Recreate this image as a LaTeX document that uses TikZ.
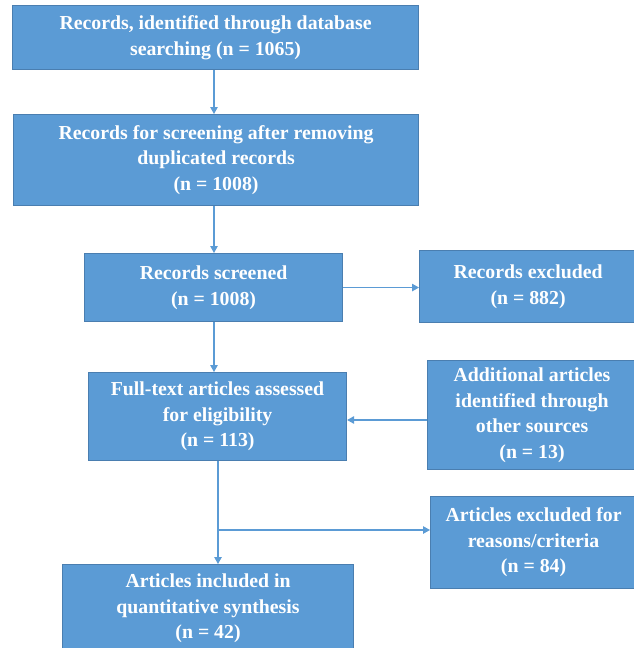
\documentclass[tikz,border=0pt]{standalone}
\usepackage{fontspec}
\setmainfont{Liberation Serif}
\usetikzlibrary{arrows.meta,calc}
\definecolor{boxfill}{HTML}{5B9BD5}
\definecolor{boxline}{HTML}{4A7EB0}
\definecolor{arrowcol}{HTML}{5B9BD5}
\tikzset{
  box/.style={draw=boxline, fill=boxfill, line width=1.1pt, text=white,
    font=\bfseries\fontsize{19.8}{25.5}\selectfont, align=center, inner sep=0pt,
    anchor=north west},
  arr/.style={draw=arrowcol, line width=1.2pt, -{Triangle[length=7pt,width=7.5pt]}},
  conn/.style={draw=arrowcol, line width=1.2pt}
}
\newcommand{\flowbox}[6]{% name, left, top, right, bottom, text
  \node[box, minimum width={(#4-#2)*1pt}, minimum height={(#5-#3)*1pt}] (#1) at (#2,#3) {#6};}
\begin{document}
\begin{tikzpicture}[x=1pt,y=-1pt]
\useasboundingbox (0,0) rectangle (634,648);
\flowbox{b1}{12}{5}{418}{69}{Records, identified through database\\searching (n = 1065)}
\flowbox{b2}{13}{114}{418}{205}{Records for screening after removing\\duplicated records\\(n = 1008)}
\flowbox{b3}{84}{253}{342}{321}{Records screened\\(n = 1008)}
\flowbox{b4}{419}{250}{636}{322}{Records excluded\\(n = 882)}
\flowbox{b5}{88}{372}{346}{460}{Full-text articles assessed\\for eligibility\\(n = 113)}
\flowbox{b6}{427}{360}{636}{469}{Additional articles\\identified through\\other sources\\(n = 13)}
\flowbox{b7}{430}{496}{636}{588}{Articles excluded for\\reasons/criteria\\(n = 84)}
\flowbox{b8}{62}{564}{353}{652}{Articles included in\\quantitative synthesis\\(n = 42)}
\coordinate (c1) at (214,0);
\coordinate (c2) at (218,0);
\coordinate (y6) at (0,420);
\coordinate (br) at (218,530);
\draw[arr] (b1.south -| c1) -- (b2.north -| c1);
\draw[arr] (b2.south -| c1) -- (b3.north -| c1);
\draw[arr] (b3.south -| c1) -- (b5.north -| c1);
\draw[arr] (b3.east) -- (b3.east -| b4.west);
\draw[arr] (b6.west |- y6) -- (b5.east |- y6);
\draw[arr] (b5.south -| c2) -- (b8.north -| c2);
\draw[arr] (br) -- (br -| b7.west);
\end{tikzpicture}
\end{document}
